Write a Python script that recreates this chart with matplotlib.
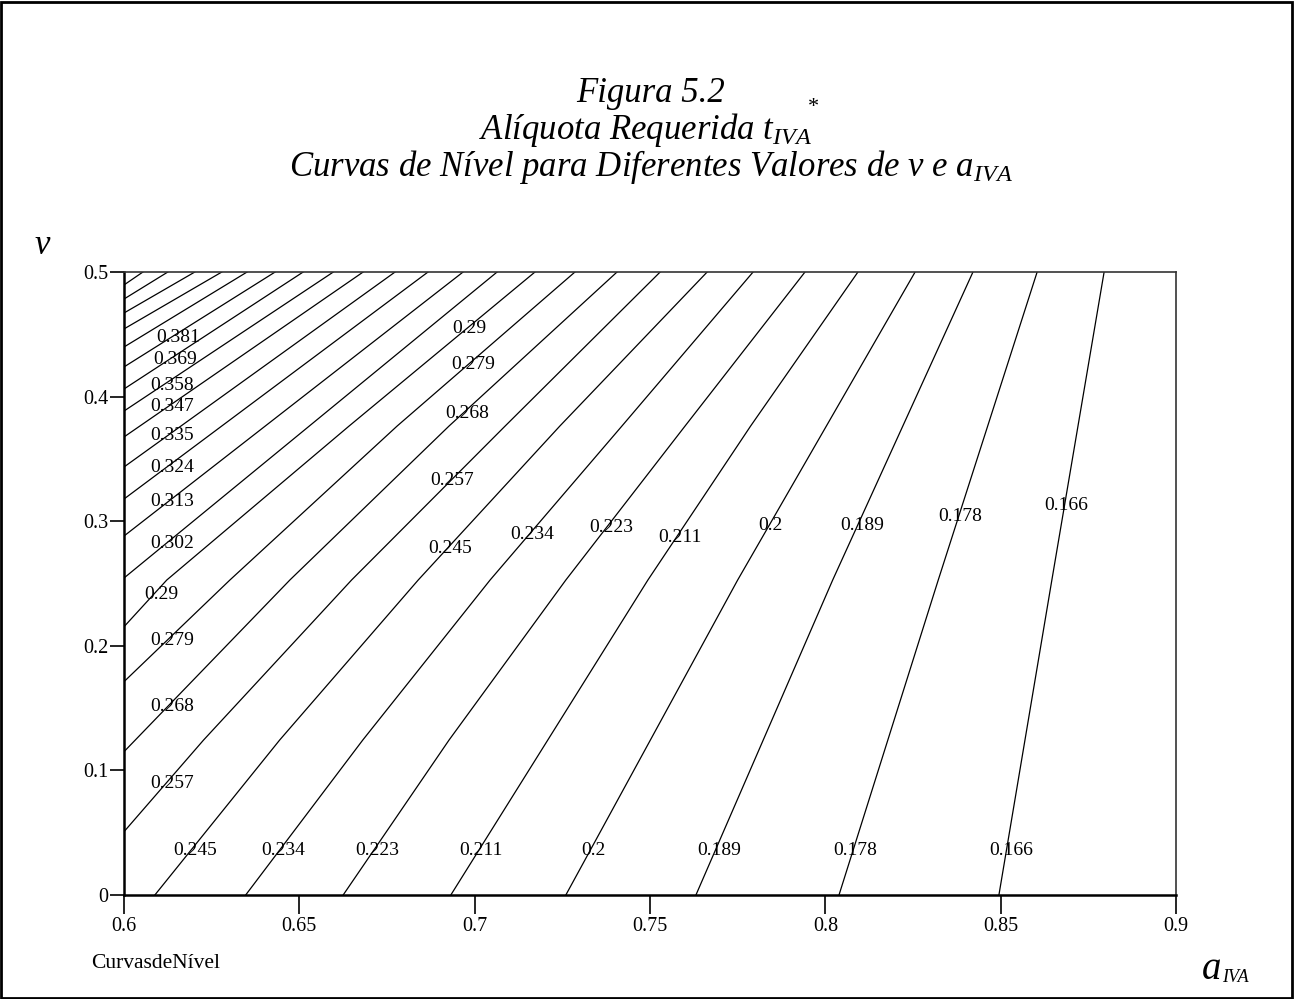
import numpy as np
import matplotlib
matplotlib.use("Agg")
import matplotlib.pyplot as plt
from matplotlib.patches import Rectangle

plt.rcParams["font.family"] = ["Liberation Serif", "DejaVu Serif"]
plt.rcParams["mathtext.fontset"] = "custom"
plt.rcParams["mathtext.it"] = "Liberation Serif:italic"
plt.rcParams["mathtext.rm"] = "Liberation Serif"

# contour levels of t_IVA* and the traced level curves (a_IVA, v)
levels = ["0.166", "0.178", "0.189", "0.2", "0.211", "0.223", "0.234", "0.245",
          "0.257", "0.268", "0.279", "0.29", "0.302", "0.313", "0.324", "0.335",
          "0.347", "0.358", "0.369", "0.381", "0.392", "0.403", "0.414", "0.426", "0.437"]

curve_a = [
    [0.8495, 0.8646, 0.8795],
    [0.8039, 0.8322, 0.8604],
    [0.7631, 0.8021, 0.8421],
    [0.7260, 0.7750, 0.8256],
    [0.6932, 0.7494, 0.7787, 0.8093],
    [0.6625, 0.6927, 0.7260, 0.7600, 0.7942],
    [0.6347, 0.6681, 0.7044, 0.7420, 0.7794],
    [0.6088, 0.6444, 0.6839, 0.7243, 0.7663],
    [0.6, 0.6227, 0.6649, 0.7087, 0.7529],
    [0.6, 0.6473, 0.6927, 0.7406],
    [0.6, 0.6302, 0.6779, 0.7286],
    [0.6, 0.6122, 0.6642, 0.7172],
    [0.6, 0.7064],
    [0.6, 0.6967],
    [0.6, 0.6867],
    [0.6, 0.6773],
    [0.6, 0.6682],
    [0.6, 0.6597],
    [0.6, 0.6511],
    [0.6, 0.6431],
    [0.6, 0.6351],
    [0.6, 0.6279],
    [0.6, 0.6202],
    [0.6, 0.6125],
    [0.6, 0.6054],
]
curve_v = [
    [0.0, 0.2528, 0.5],
    [0.0, 0.2528, 0.5],
    [0.0, 0.2528, 0.5],
    [0.0, 0.2528, 0.5],
    [0.0, 0.2528, 0.3764, 0.5],
    [0.0, 0.1244, 0.2528, 0.3764, 0.5],
    [0.0, 0.1244, 0.2528, 0.3764, 0.5],
    [0.0, 0.1244, 0.2528, 0.3764, 0.5],
    [0.0508, 0.1244, 0.2528, 0.3764, 0.5],
    [0.1150, 0.2528, 0.3764, 0.5],
    [0.1712, 0.2528, 0.3764, 0.5],
    [0.2153, 0.2528, 0.3764, 0.5],
    [0.2544, 0.5],
    [0.2881, 0.5],
    [0.3178, 0.5],
    [0.3435, 0.5],
    [0.3676, 0.5],
    [0.3884, 0.5],
    [0.4061, 0.5],
    [0.4238, 0.5],
    [0.4398, 0.5],
    [0.4543, 0.5],
    [0.4671, 0.5],
    [0.4783, 0.5],
    [0.4896, 0.5],
]

# where the level labels sit
label_text = ["0.245", "0.234", "0.223", "0.211", "0.2", "0.189", "0.178", "0.166",
              "0.381", "0.369", "0.358", "0.347", "0.335", "0.324", "0.313", "0.302",
              "0.29", "0.279", "0.268", "0.257",
              "0.29", "0.279", "0.268", "0.257", "0.245", "0.234", "0.223", "0.211",
              "0.2", "0.189", "0.178", "0.166"]
label_a = [0.6204, 0.6455, 0.6723, 0.7017, 0.7340, 0.7697, 0.8086, 0.8529,
           0.6155, 0.6147, 0.6137, 0.6137, 0.6137, 0.6137, 0.6137, 0.6137,
           0.6107, 0.6137, 0.6137, 0.6137,
           0.6985, 0.6997, 0.6980, 0.6937, 0.6931, 0.7165, 0.7390, 0.7584,
           0.7844, 0.8105, 0.8385, 0.8686]
label_v = [0.0361, 0.0361, 0.0361, 0.0361, 0.0361, 0.0361, 0.0361, 0.0361,
           0.4478, 0.4294, 0.4093, 0.3917, 0.3684, 0.3427, 0.3162, 0.2825,
           0.2408, 0.2039, 0.1509, 0.0891,
           0.4543, 0.4254, 0.3868, 0.3323, 0.2777, 0.2897, 0.2953, 0.2873,
           0.2962, 0.2962, 0.3034, 0.3122]

x_ticks = [0.6, 0.65, 0.7, 0.75, 0.8, 0.85, 0.9]
x_tick_labels = ["0.6", "0.65", "0.7", "0.75", "0.8", "0.85", "0.9"]
y_ticks = [0.0, 0.1, 0.2, 0.3, 0.4, 0.5]
y_tick_labels = ["0", "0.1", "0.2", "0.3", "0.4", "0.5"]

W, H = 1294, 999
fig = plt.figure(figsize=(W / 100, H / 100), dpi=100)
ax = fig.add_axes([124 / W, 104 / H, 1052 / W, 623 / H])

for a, v in zip(curve_a, curve_v):
    ax.plot(a, v, color="black", lw=0.9)

for txt, a, v in zip(label_text, label_a, label_v):
    ax.text(a, v, txt, ha="center", va="center", fontsize=14, color="black")

ax.set_xlim(0.6, 0.9)
ax.set_ylim(0, 0.5)
ax.set_xticks(x_ticks)
ax.set_xticklabels(x_tick_labels)
ax.set_yticks(y_ticks)
ax.set_yticklabels(y_tick_labels)
ax.tick_params(axis="x", direction="out", length=14, width=1.2, labelsize=14.5, pad=2)
ax.tick_params(axis="y", direction="out", length=10, width=1.2, labelsize=14.5, pad=1)
for s in ["left", "bottom"]:
    ax.spines[s].set_linewidth(1.8)
for s in ["top", "right"]:
    ax.spines[s].set_linewidth(1.2)
    ax.spines[s].set_color("#333333")

# titles and axis names
fig.text(651 / W, 1 - 93 / H, "Figura 5.2", ha="center", va="center",
         fontsize=25, style="italic")
fig.text(646 / W, 1 - 130 / H, r"Alíquota Requerida $t_{IVA}$", ha="center",
         va="center", fontsize=25, style="italic")
fig.text(813 / W, 1 - 108 / H, "*", ha="center", va="center", fontsize=16)
fig.text(651 / W, 1 - 167 / H, r"Curvas de Nível para Diferentes Valores de v e $a_{IVA}$",
         ha="center", va="center", fontsize=25, style="italic")

fig.text(42 / W, 1 - 245 / H, "v", ha="center", va="center", fontsize=25, style="italic")
fig.text(1202 / W, 1 - 979 / H, "a", ha="left", va="baseline", fontsize=28, style="italic")
fig.text(1222 / W, 1 - 982 / H, "IVA", ha="left", va="baseline", fontsize=13, style="italic")
fig.text(91 / W, 1 - 963 / H, "CurvasdeNível", ha="left", va="center", fontsize=15.5)

fig.patches.append(Rectangle((1 / W, 1 / H), 1 - 3 / W, 1 - 3 / H, transform=fig.transFigure,
                             fill=False, lw=2, ec="black"))

fig.savefig("out.png", dpi=100)
